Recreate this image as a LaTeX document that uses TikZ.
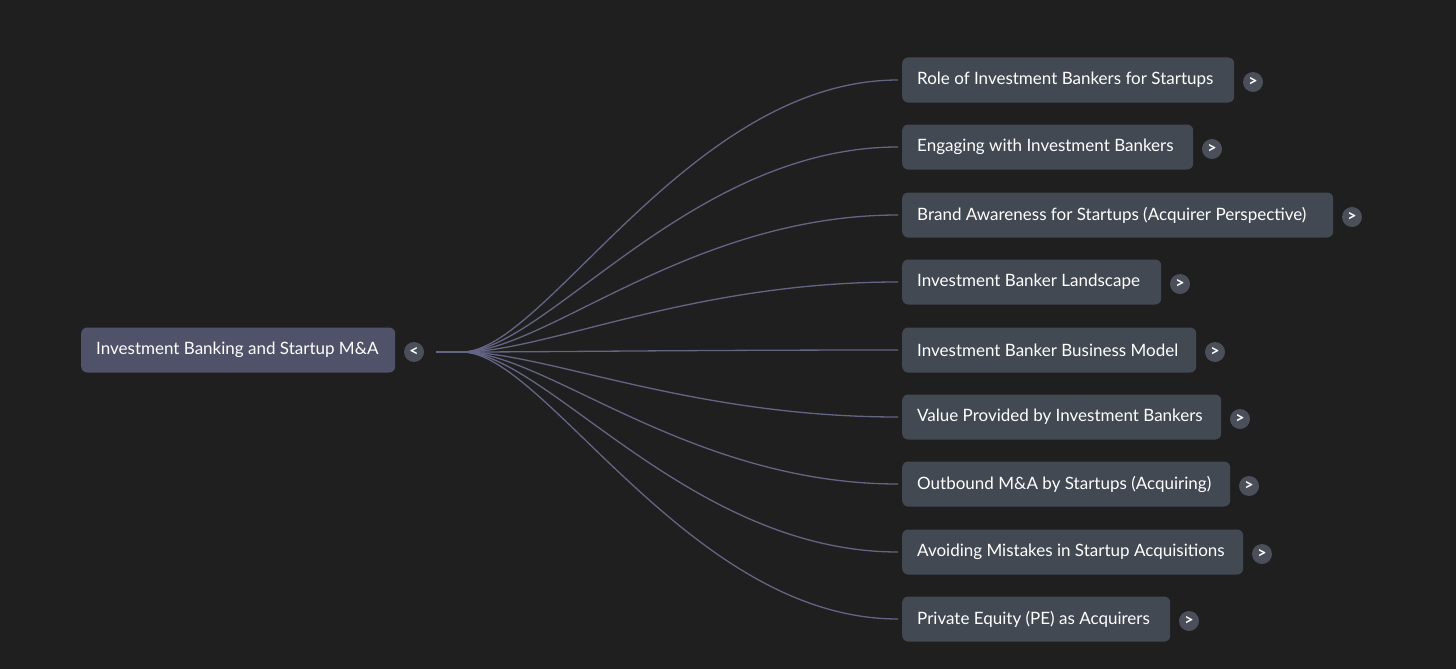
\documentclass[tikz,border=0pt]{standalone}
\usepackage{fontspec}
\setmainfont{Lato}
\definecolor{bg}{RGB}{31,31,31}
\definecolor{rootfill}{RGB}{80,82,106}
\definecolor{childfill}{RGB}{67,73,83}
\definecolor{btnfill}{RGB}{74,79,90}
\definecolor{linkcol}{RGB}{100,101,132}
\tikzset{
  rootbox/.style={fill=rootfill, rounded corners=6pt, anchor=west, minimum height=45pt, inner xsep=15pt, text=white, font=\fontsize{17}{20}\selectfont},
  childbox/.style={fill=childfill, rounded corners=6pt, anchor=west, minimum height=45pt, inner xsep=15pt, text=white, font=\fontsize{17}{20}\selectfont},
  btn/.style={circle, fill=btnfill, minimum size=20pt, inner sep=0pt, text=white, font=\fontsize{16}{16}\selectfont\bfseries},
  link/.style={draw=linkcol, line width=1.3pt}
}
\begin{document}
\begin{tikzpicture}[x=1pt,y=-1pt]
\fill[bg] (0,0) rectangle (1456,669);
\useasboundingbox (0,0) rectangle (1456,669);
\node[rootbox] (root) at (81,350) {\makebox[284pt][l]{Investment Banking and Startup M\&A}};
\node[btn] (rb) at (414,352) {<};
\coordinate (start) at (436,352);
\coordinate (fan) at (462,352);
\draw[link] (start) -- (fan);
\foreach \i/\y/\r/\t in {
  1/80/1234/{Role of Investment Bankers for Startups},
  2/147/1193/{Engaging with Investment Bankers},
  3/215/1333/{Brand Awareness for Startups (Acquirer Perspective)},
  4/282/1161/{Investment Banker Landscape},
  5/350/1196/{Investment Banker Business Model},
  6/417/1221/{Value Provided by Investment Bankers},
  7/484/1230/{Outbound M\&A by Startups (Acquiring)},
  8/552/1243/{Avoiding Mistakes in Startup Acquisitions},
  9/619/1170/{Private Equity (PE) as Acquirers}}{
  \pgfmathsetmacro{\tw}{\r-902-30}
  \node[childbox] (c\i) at (902,\y) {\makebox[\tw pt][l]{\t}};
  \node[btn] (b\i) at (\r+19,\y+2) {>};
  \coordinate (e\i) at (898,\y);
  \draw[link] (fan) .. controls (545,352) and (690,\y) .. (e\i);
}
\end{tikzpicture}
\end{document}
